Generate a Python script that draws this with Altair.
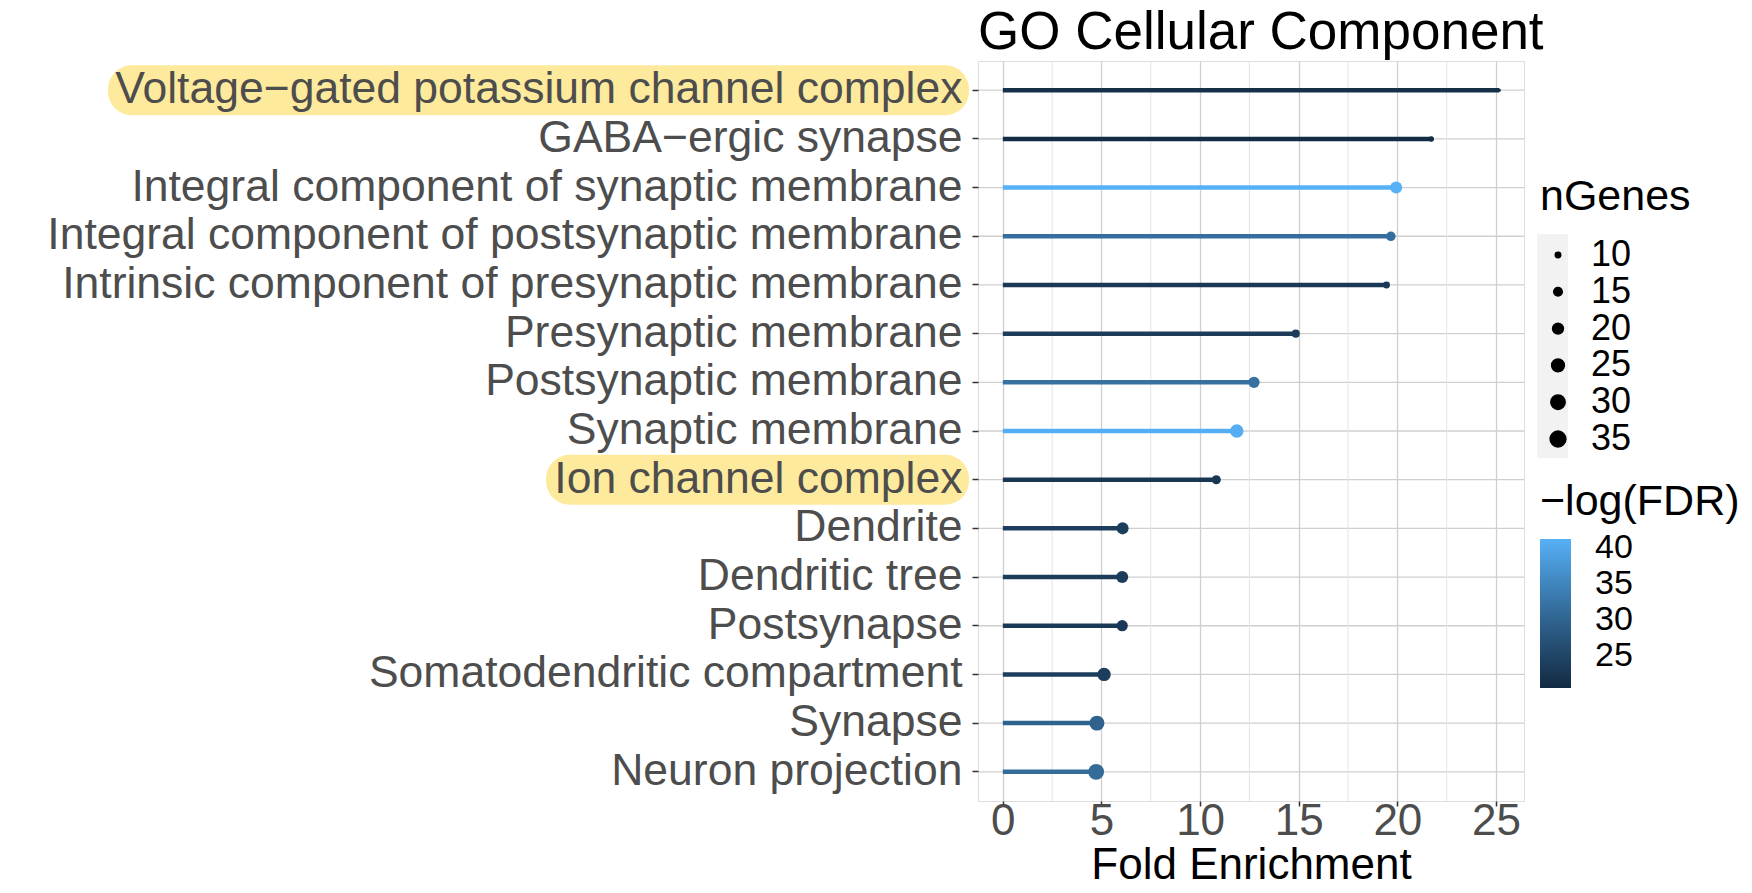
import altair as alt
import pandas as pd

terms = [
    "Voltage−gated potassium channel complex",
    "GABA−ergic synapse",
    "Integral component of synaptic membrane",
    "Integral component of postsynaptic membrane",
    "Intrinsic component of presynaptic membrane",
    "Presynaptic membrane",
    "Postsynaptic membrane",
    "Synaptic membrane",
    "Ion channel complex",
    "Dendrite",
    "Dendritic tree",
    "Postsynapse",
    "Somatodendritic compartment",
    "Synapse",
    "Neuron projection",
]
fold_enrichment = [25.16, 21.72, 19.94, 19.67, 19.45, 14.85, 12.73, 11.86, 10.82,
                   6.07, 6.05, 6.05, 5.13, 4.77, 4.73]
n_genes = [8, 10, 23, 17, 12, 14, 21, 27, 16, 23, 23, 21, 27, 32, 35]
neg_log_fdr = [21.5, 20.6, 41.2, 31.5, 23.0, 23.5, 32.0, 40.8, 22.5,
               23.8, 23.5, 23.0, 23.8, 29.8, 31.0]
highlighted = ["Voltage−gated potassium channel complex", "Ion channel complex"]
x_ticks = [0, 5, 10, 15, 20, 25]
x_minor = [2.5, 7.5, 12.5, 17.5, 22.5]
size_breaks = [10, 15, 20, 25, 30, 35]
color_breaks = [25, 30, 35, 40]

df = pd.DataFrame({"term": terms, "fe": fold_enrichment, "n": n_genes, "lfdr": neg_log_fdr})
minor_df = pd.DataFrame({"fe": x_minor})
key_df = pd.DataFrame({"k": [0]})

FONT = "Liberation Sans"
W, H = 546, 740
GRID = "#CFCFCF"

x_scale = alt.Scale(domain=[-1.26, 26.42], nice=False, zero=False)
y_scale = alt.Scale(type="band", domain=terms, paddingInner=0, paddingOuter=0.1)
color_scale = alt.Scale(domain=[20.6, 41.2], range=["#132B43", "#56B1F7"], interpolate="lab")
size_scale = alt.Scale(domain=[10, 35], range=[30, 250], zero=False)

y_axis = alt.Axis(title=None, labelFont=FONT, labelFontSize=44.5, labelColor="#4D4D4D",
                  labelLimit=2000, labelPadding=10, tickSize=6, tickColor="#333333",
                  tickWidth=1.5, domain=False, grid=False, zindex=1)
x_axis = alt.Axis(values=x_ticks, title="Fold Enrichment", titleFont=FONT, titleFontSize=44,
                  titleFontWeight="normal", titleColor="black", titlePadding=0.5,
                  labelFont=FONT, labelFontSize=44, labelColor="#4D4D4D", labelPadding=-7,
                  labelFlush=False, tickSize=5, tickColor="#333333", tickWidth=1.5,
                  domain=False, grid=True, gridColor=GRID, gridWidth=1.3, zindex=0)

size_legend = alt.Legend(title="nGenes", type="symbol", orient="none", legendX=562, legendY=115,
                         values=size_breaks, titleFont=FONT, titleFontSize=43,
                         titleFontWeight="normal", titleColor="black", titlePadding=18,
                         titleLimit=400, labelFont=FONT, labelFontSize=36, labelColor="black",
                         labelOffset=15, symbolType="circle", symbolFillColor="black",
                         symbolStrokeColor="black", symbolOpacity=1, symbolOffset=0,
                         rowPadding=0.8)
color_legend = alt.Legend(title="−log(FDR)", type="gradient", orient="none", legendX=562,
                          legendY=420, values=color_breaks, direction="vertical",
                          gradientLength=149, gradientThickness=31, gradientStrokeWidth=0,
                          titleFont=FONT, titleFontSize=43, titleFontWeight="normal",
                          titleColor="black", titlePadding=15, titleLimit=400,
                          labelFont=FONT, labelFontSize=34, labelColor="black",
                          labelOffset=24, labelOverlap=False)

Y = alt.Y("term:N", scale=y_scale, axis=y_axis)
X = alt.X("fe:Q", scale=x_scale, axis=x_axis)
base = alt.Chart(df)

key_bg = alt.Chart(key_df).mark_rect(color="#F2F2F2").encode(
    x=alt.value(559), x2=alt.value(590), y=alt.value(173), y2=alt.value(397))

hl1 = base.transform_filter(alt.datum.term == highlighted[0]).mark_bar(
    height=50, cornerRadius=24, color="#FEEA9C").encode(
    y=Y, x=alt.value(-870), x2=alt.value(-9))
hl2 = base.transform_filter(alt.datum.term == highlighted[1]).mark_bar(
    height=50, cornerRadius=24, color="#FEEA9C").encode(
    y=Y, x=alt.value(-432), x2=alt.value(-9))

hgrid = base.mark_rule(color=GRID, strokeWidth=1.3).encode(y=Y)
vminor = alt.Chart(minor_df).mark_rule(color="#E4E4E4", strokeWidth=1).encode(x=X)

stems = base.mark_rule(strokeWidth=4.5).encode(
    y=Y, x=X, x2=alt.X2(datum=0),
    color=alt.Color("lfdr:Q", scale=color_scale, legend=None),
)
dots = base.mark_circle(opacity=1).encode(
    y=Y, x=X,
    size=alt.Size("n:Q", scale=size_scale, legend=size_legend),
    color=alt.Color("lfdr:Q", scale=color_scale, legend=color_legend),
)

chart = alt.layer(key_bg, hl1, hl2, hgrid, vminor, stems, dots).resolve_legend(
    color="independent", size="independent"
).properties(
    width=W, height=H,
    title=alt.TitleParams("GO Cellular Component", anchor="start", frame="group",
                          fontSize=53, font=FONT, fontWeight="normal", color="black",
                          offset=1),
    padding={"left": 46, "top": 6, "right": 5, "bottom": 2},
).configure_view(stroke="transparent").configure(background="white")

chart.save("out.html", embed_options={"renderer": "svg", "actions": False})
